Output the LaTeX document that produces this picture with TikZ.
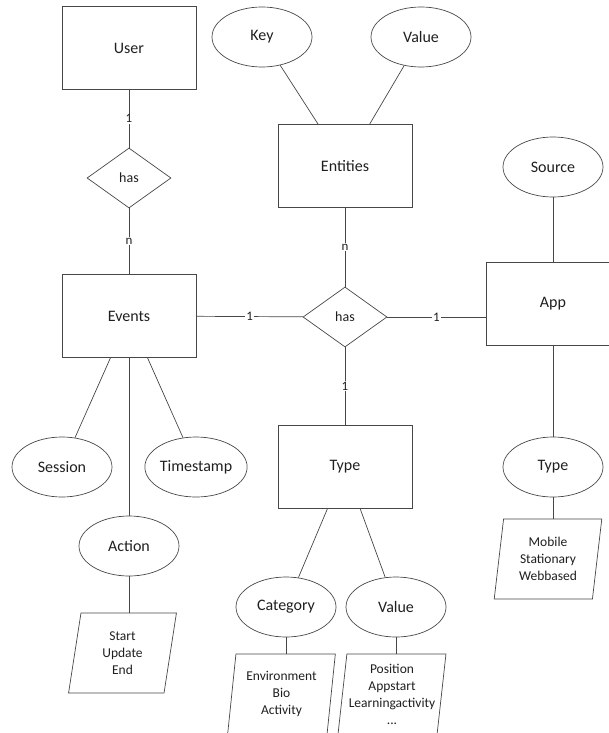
\documentclass[tikz,border=0pt]{standalone}
\usepackage{fontspec}
\setmainfont{Carlito}
\usetikzlibrary{shapes.geometric}

\colorlet{erline}{black!72}
\colorlet{ertext}{black!88}

\tikzset{
  entity/.style={draw=erline,rectangle,minimum width=134pt,minimum height=83pt,
    text=ertext,font=\fontsize{16}{19}\selectfont},
  attr/.style={draw=erline,ellipse,minimum width=100pt,minimum height=60pt,inner sep=0pt,
    text=ertext,font=\fontsize{16}{19}\selectfont},
  rel/.style={draw=erline,diamond,minimum width=84pt,minimum height=60pt,inner sep=0pt,
    text=ertext,font=\fontsize{14}{17}\selectfont},
  valbox/.style={draw=erline,trapezium,trapezium left angle=82,trapezium right angle=98,
    trapezium stretches=true,minimum width=108pt,minimum height=80pt,inner sep=0pt,
    align=center,text=ertext,font=\fontsize{13.5}{17}\selectfont},
  card/.style={fill=white,inner sep=1pt,text=ertext,font=\fontsize{13}{15}\selectfont},
  erlink/.style={draw=erline,line width=0.7pt}
}

\begin{document}
\begin{tikzpicture}[x=1pt,y=-1pt,line width=0.7pt]
\useasboundingbox (0,0) rectangle (609,733);
% left column
\node[entity] (user) at (129,48) {User};
\node[rel] (hasuser) at (129,178) {has};
\node[entity] (events) at (129,316) {Events};
\node[attr] (session) at (62,467) {Session};
\node[attr] (stamp) at (196,467) {Timestamp};
\node[attr] (action) at (129,546) {Action};
\node[valbox] (actlist) at (122.5,653) {Start\\Update\\End};
% middle column
\node[attr] (key) at (262,37) {Key};
\node[attr] (keyval) at (421,37) {Value};
\node[entity] (entities) at (345,166) {Entities};
\node[rel] (hasmid) at (345,317) {has};
\node[entity] (type) at (345,467) {Type};
\node[attr] (category) at (286,607) {Category};
\node[attr] (typeval) at (396,607) {Value};
\node[valbox] (catlist) at (281.5,694) {Environment\\Bio\\Activity};
\node[valbox] (vallist) at (392,694) {Position\\Appstart\\Learningactivity\\...};
% right column
\node[attr] (source) at (553,167) {Source};
\node[entity] (app) at (553,304) {App};
\node[attr] (apptype) at (553,467) {Type};
\node[valbox] (applist) at (548,559) {Mobile\\Stationary\\Webbased};

% relationships
\draw[erlink] (user) -- node[card] {1} (hasuser);
\draw[erlink] (hasuser) -- node[card] {n} (events);
\draw[erlink] (entities) -- node[card] {n} (hasmid);
\draw[erlink] (events) -- node[card] {1} (hasmid);
\draw[erlink] (hasmid) -- node[card] {1} (hasmid -| app.west);
\draw[erlink] (hasmid) -- node[card] {1} (type);

% attributes
\draw[erlink] (events) -- (session);
\draw[erlink] (events) -- (stamp);
\draw[erlink] (events) -- (action);
\draw[erlink] (action.south) -- (action.south |- actlist.north);
\draw[erlink] (key) -- (entities);
\draw[erlink] (keyval) -- (entities);
\draw[erlink] (type) -- (category);
\draw[erlink] (type) -- (typeval);
\draw[erlink] (category.south) -- (category.south |- catlist.north);
\draw[erlink] (typeval.south) -- (typeval.south |- vallist.north);
\draw[erlink] (source) -- (app);
\draw[erlink] (app) -- (apptype);
\draw[erlink] (apptype.south) -- (apptype.south |- applist.north);
\end{tikzpicture}
\end{document}
